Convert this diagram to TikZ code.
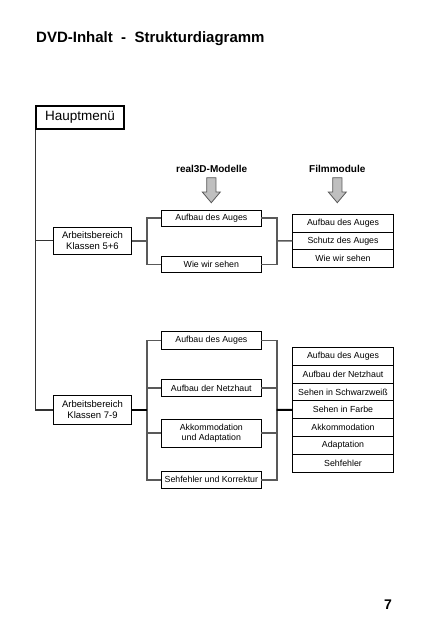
\documentclass[tikz,border=0pt]{standalone}
\usepackage{fontspec}
\setmainfont{Liberation Sans}
\begin{document}
\begin{tikzpicture}[x=1pt,y=-1pt,
  box/.style={draw=black,line width=0.9pt,inner sep=0pt,align=center,
    font=\fontsize{8.8}{10.5}\selectfont},
  klbox/.style={box,minimum width=78.4pt,font=\fontsize{9.5}{11}\selectfont},
  rbox/.style={box,minimum width=99.3pt},
  fbox/.style={box,minimum width=100.6pt},
  conn/.style={draw=black!65,line width=1.6pt},
  mainconn/.style={draw=black,line width=2pt},
  treeconn/.style={draw=black!80,line width=1.1pt},
  blockarrow/.style={draw=black!65,fill=black!25,line width=0.8pt,line join=miter},
  hdr/.style={font=\fontsize{10}{12}\selectfont\bfseries,inner sep=0pt}]
\useasboundingbox (0,0) rectangle (427,640);

% title
\node[anchor=west,inner sep=0pt,font=\fontsize{15}{18}\selectfont\bfseries] (title) at (36,38.5) {DVD-Inhalt\ \ -\ \ Strukturdiagramm};

% main menu
\node[draw=black,line width=1.6pt,minimum width=88pt,minimum height=23pt,inner sep=0pt,
  font=\fontsize{13.5}{16}\selectfont] (hm) at (80,117.5) {Hauptmenü};

% Klassen boxes
\node[klbox,minimum height=27pt] (k1) at (92.5,240.8) {Arbeitsbereich\\Klassen 5+6};
\node[klbox,minimum height=28.6pt] (k2) at (92.5,410) {Arbeitsbereich\\Klassen 7-9};

% tree
\draw[treeconn] (hm.south west) |- (k2.west);
\draw[treeconn] (k1.west) -- (k1.west -| hm.south west);

% headers and arrows
\node[hdr] (h3d) at (211.7,168.5) {real3D-Modelle};
\node[hdr] (hfm) at (337.3,168.5) {Filmmodule};
\coordinate (a1) at (211.3,177.7);
\coordinate (a2) at (337.3,177.7);
\foreach \a in {a1,a2}{
  \draw[blockarrow] (\a) ++(-4.6,0) -- ++(0,14.3) -- ++(-4.4,0) -- ++(9,10.7)
     -- ++(9,-10.7) -- ++(-4.4,0) -- ++(0,-14.3) -- cycle;
}

% group 1: real3D boxes
\node[rbox,minimum height=16pt] (r1a) at (211.35,218) {Aufbau des Auges};
\node[rbox,minimum height=16.7pt] (r1b) at (211.35,264.3) {Wie wir sehen};
% film stack 1
\foreach \t [count=\i] in {Aufbau des Auges,Schutz des Auges,Wie wir sehen}{
  \node[fbox,minimum height=17.67pt] (f1\i) at (343,{214.3+(\i-0.5)*17.67}) {\t};
}
\coordinate (j1) at (146.7,240.8);
\coordinate (j2) at (276.7,240.8);
\draw[conn] (k1.east) -- (j1);
\draw[conn] (r1a.west) -| (j1);
\draw[conn] (r1b.west) -| (j1);
\draw[conn] (r1a.east) -| (j2);
\draw[conn] (r1b.east) -| (j2);
\draw[conn] (j2) -- (f12.west);

% group 2: real3D boxes
\node[rbox,minimum height=17.6pt] (r2a) at (211.35,340.5) {Aufbau des Auges};
\node[rbox,minimum height=17.7pt] (r2b) at (211.35,387.9) {Aufbau der Netzhaut};
\node[rbox,minimum height=28.3pt] (r2c) at (211.35,433.2) {Akkommodation\\und Adaptation};
\node[rbox,minimum height=17.3pt] (r2d) at (211.35,479.7) {Sehfehler und Korrektur};
% film stack 2
\foreach \t [count=\i] in {Aufbau des Auges,Aufbau der Netzhaut,Sehen in Schwarzweiß,Sehen in Farbe,Akkommodation,Adaptation,Sehfehler}{
  \node[fbox,minimum height=17.86pt] (f2\i) at (343,{347.3+(\i-0.5)*17.86}) {\t};
}
\coordinate (j3) at (146.7,409.8);
\coordinate (j4) at (276.7,409.8);
\draw[conn] (r2a.west) -| (j3);
\draw[conn] (r2b.west) -| (j3);
\draw[conn] (r2c.west) -| (j3);
\draw[conn] (r2d.west) -| (j3);
\draw[conn] (r2a.east) -| (j4);
\draw[conn] (r2b.east) -| (j4);
\draw[conn] (r2c.east) -| (j4);
\draw[conn] (r2d.east) -| (j4);
\draw[mainconn] (k2.east |- j3) -- (j3);
\draw[mainconn] (j4) -- (f24.west);

% page number
\node[inner sep=0pt,font=\fontsize{14}{16}\selectfont\bfseries] (pg) at (388,604.3) {7};
\end{tikzpicture}
\end{document}
